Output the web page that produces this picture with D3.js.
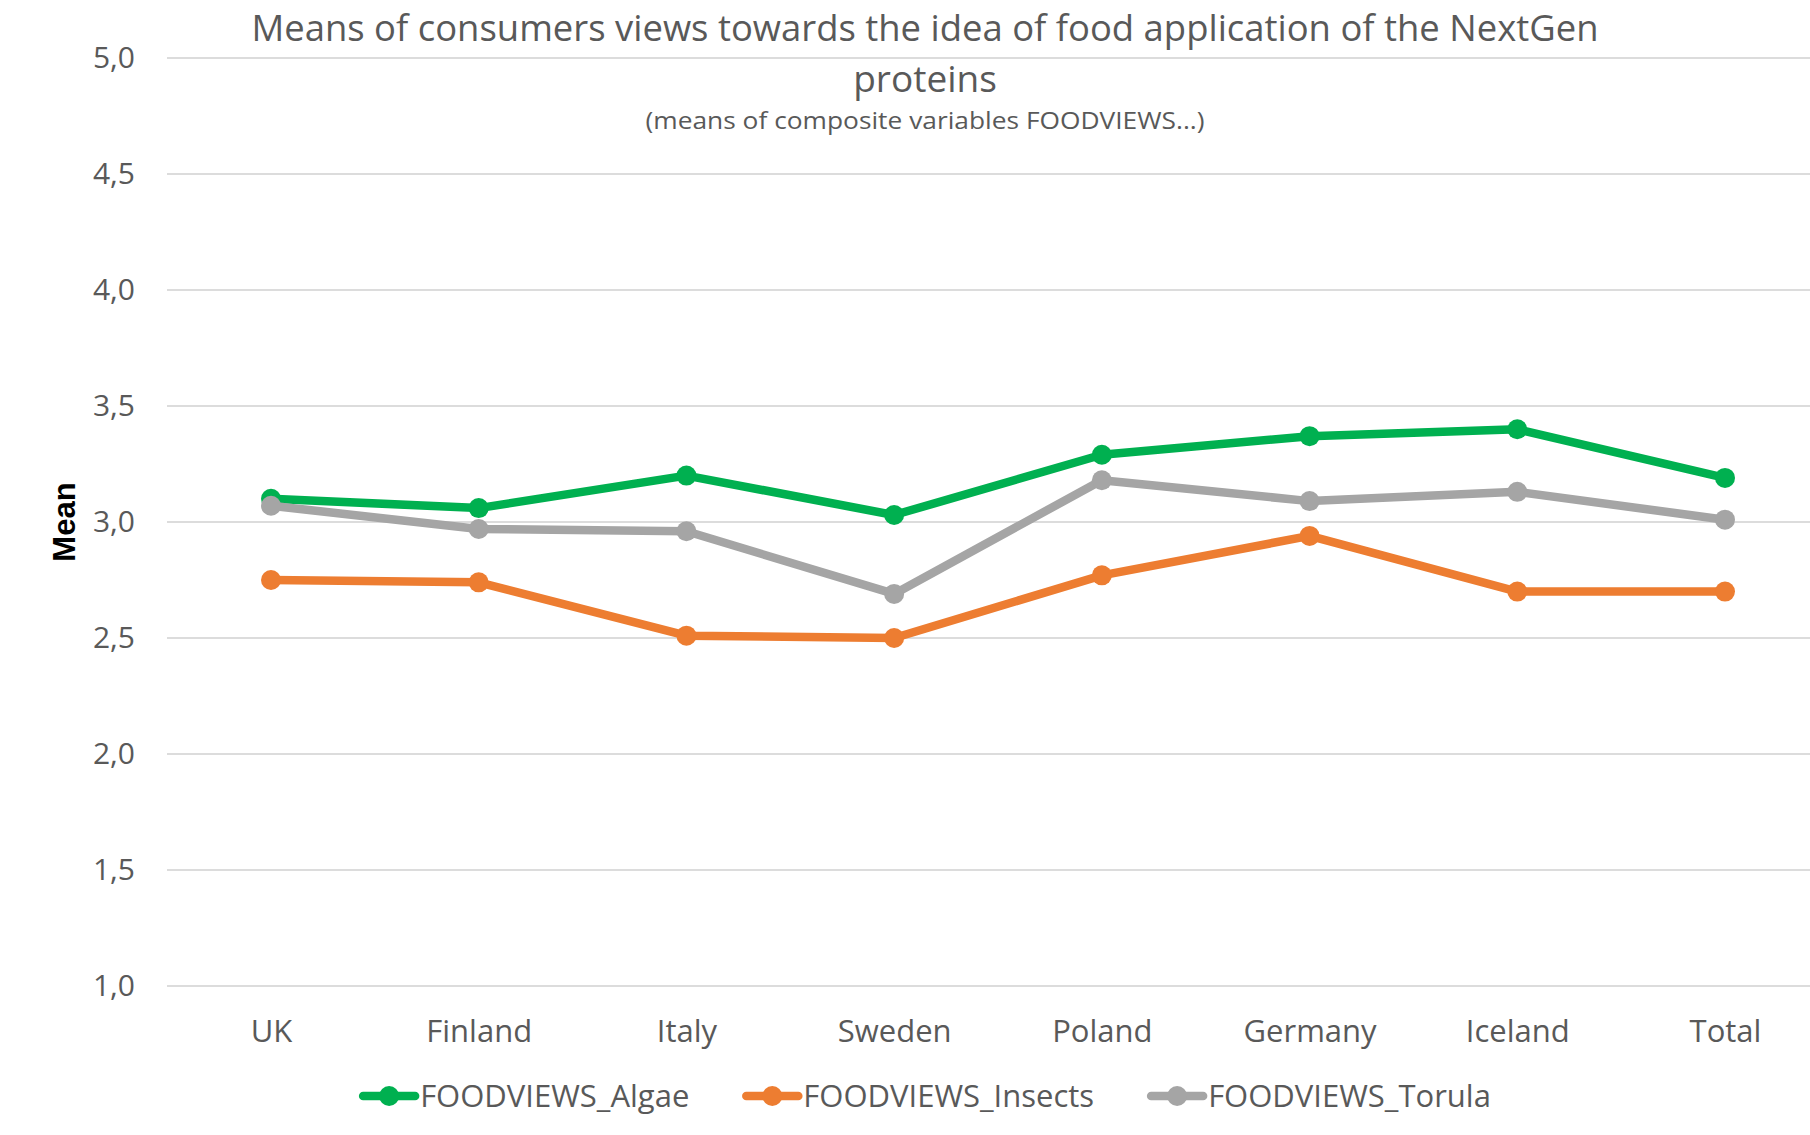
<!DOCTYPE html>
<html>
<head>
<meta charset="utf-8">
<script src="https://cdn.jsdelivr.net/npm/d3@7"></script>
<style>
  html, body { margin: 0; padding: 0; background: #ffffff; }
  svg { display: block; }
  .narrow { font-family: "Open Sans", "Noto Sans", sans-serif; }
</style>
</head>
<body>
<svg id="chart" width="1810" height="1135"></svg>
<script>
// ---- data ----
const categories = ["UK", "Finland", "Italy", "Sweden", "Poland", "Germany", "Iceland", "Total"];
const algae   = [3.10, 3.06, 3.20, 3.03, 3.29, 3.37, 3.40, 3.19];
const insects = [2.75, 2.74, 2.51, 2.50, 2.77, 2.94, 2.70, 2.70];
const torula  = [3.07, 2.97, 2.96, 2.69, 3.18, 3.09, 3.13, 3.01];
const seriesNames = ["FOODVIEWS_Algae", "FOODVIEWS_Insects", "FOODVIEWS_Torula"];
const yTicks = [1.0, 1.5, 2.0, 2.5, 3.0, 3.5, 4.0, 4.5, 5.0];
const titleLines = ["Means of consumers views towards the idea of food application of the NextGen", "proteins"];
const subtitle = "(means of composite variables FOODVIEWS...)";
const yTitle = "Mean";

// ---- styles ----
const colors = ["#00B050", "#ED7D31", "#A5A5A5"];
const series = [algae, insects, torula].map((vals, i) => ({ name: seriesNames[i], color: colors[i], values: vals }));

const svg = d3.select("#chart");
const plot = { left: 167, right: 1810, top: 58, bottom: 986 };
const titleCenter = 925;

const x = d3.scalePoint().domain(categories).range([271, 1725]);
const y = d3.scaleLinear().domain([1, 5]).range([plot.bottom, plot.top]);

const locale = d3.formatLocale({ decimal: ",", thousands: ".", grouping: [3], currency: ["", ""] });
const fmt = locale.format(".1f");

// gridlines
svg.append("g").selectAll("line").data(yTicks).join("line")
  .attr("x1", plot.left).attr("x2", plot.right)
  .attr("y1", d => y(d)).attr("y2", d => y(d))
  .attr("stroke", "#dcdcdc").attr("stroke-width", 2);

// y axis labels
const yAxis = d3.axisLeft(y).tickValues(yTicks).tickFormat(fmt).tickSize(0).tickPadding(0);
const gy = svg.append("g").attr("transform", "translate(135,0)").call(yAxis);
gy.select(".domain").remove();
gy.selectAll("text").attr("class", "narrow").attr("font-size", 30).attr("fill", "#595959")
  .attr("font-family", null);

// x axis labels
const xAxis = d3.axisBottom(x).tickSize(0).tickPadding(0);
const gx = svg.append("g").attr("transform", "translate(0,1020)").call(xAxis);
gx.select(".domain").remove();
gx.selectAll("text").attr("class", "narrow").attr("font-size", 31).attr("fill", "#595959")
  .attr("font-family", null).attr("dy", "0.72em");

// y title
svg.append("text")
  .attr("transform", "translate(75,522) rotate(-90)")
  .attr("text-anchor", "middle")
  .attr("font-family", "Liberation Sans, Arial, sans-serif")
  .attr("font-weight", "bold").attr("font-size", 31).attr("fill", "#000")
  .text(yTitle);

// title
svg.append("text").attr("class", "narrow").attr("x", titleCenter).attr("y", 41)
  .attr("text-anchor", "middle").attr("font-size", 37).attr("fill", "#595959")
  .attr("textLength", 1347).attr("lengthAdjust", "spacingAndGlyphs")
  .text(titleLines[0]);
svg.append("text").attr("class", "narrow").attr("x", titleCenter).attr("y", 92)
  .attr("text-anchor", "middle").attr("font-size", 37).attr("fill", "#595959")
  .text(titleLines[1]);
svg.append("text").attr("class", "narrow").attr("x", titleCenter).attr("y", 129)
  .attr("text-anchor", "middle").attr("font-size", 24).attr("fill", "#595959")
  .attr("textLength", 559).attr("lengthAdjust", "spacingAndGlyphs")
  .text(subtitle);

// lines
const line = d3.line().x((d, i) => x(categories[i])).y(d => y(d));
const gs = svg.append("g").selectAll("g").data(series).join("g");
gs.append("path")
  .attr("d", d => line(d.values))
  .attr("fill", "none").attr("stroke", d => d.color)
  .attr("stroke-width", 8.5).attr("stroke-linejoin", "round").attr("stroke-linecap", "round");
gs.each(function(s) {
  d3.select(this).selectAll("circle").data(s.values).join("circle")
    .attr("cx", (d, i) => x(categories[i])).attr("cy", d => y(d))
    .attr("r", 10).attr("fill", s.color);
});

// legend
const legY = 1096;
const lg = svg.append("g");
const items = lg.selectAll("g").data(series).join("g");
items.append("line").attr("x1", 0).attr("x2", 52).attr("y1", 0).attr("y2", 0)
  .attr("stroke", d => d.color).attr("stroke-width", 8.5).attr("stroke-linecap", "round");
items.append("circle").attr("cx", 26).attr("cy", 0).attr("r", 10).attr("fill", d => d.color);
items.append("text").attr("class", "narrow").attr("x", 57).attr("y", 0).attr("dy", "0.36em")
  .attr("font-size", 31).attr("fill", "#595959").text(d => d.name);
const widths = [];
items.each(function() { widths.push(this.getBBox().width); });
const gap = 57;
const total = d3.sum(widths) + gap * (widths.length - 1);
let cx = titleCenter + 2 - total / 2;
items.attr("transform", (d, i) => {
  const t = `translate(${cx},${legY})`;
  cx += widths[i] + gap;
  return t;
});
</script>
</body>
</html>
